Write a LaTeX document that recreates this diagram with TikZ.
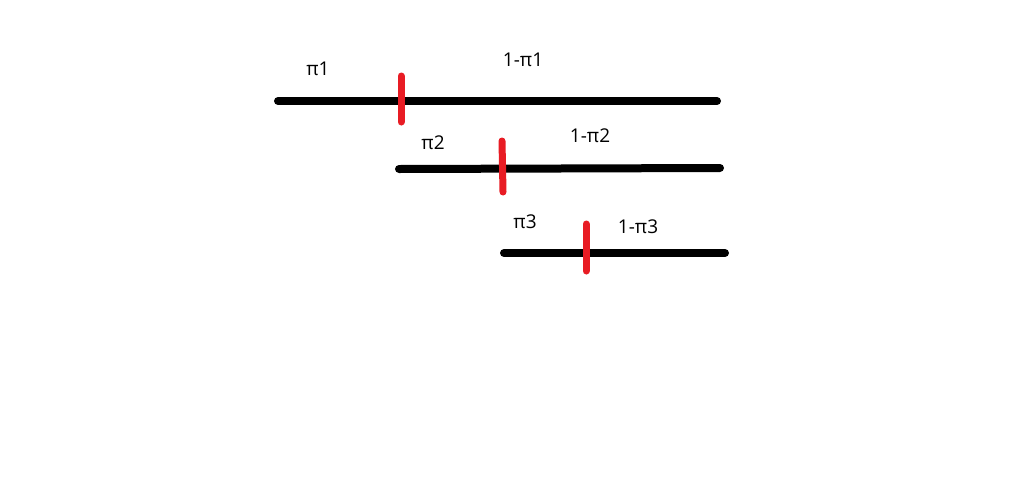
\documentclass[tikz,border=0pt]{standalone}
\usepackage{fontspec}
\setmainfont{Open Sans}
\usetikzlibrary{positioning}
\definecolor{cutred}{RGB}{232,28,36}

\begin{document}
\begin{tikzpicture}[x=1pt, y=-1pt,
    bar/.style={line width=8pt, line cap=round},
    cut/.style={line width=7pt, line cap=round, draw=cutred},
    lbl/.style={font=\fontsize{19}{22}\selectfont, inner sep=0pt}]
  \useasboundingbox[fill=white] (0,0) rectangle (1024,477);

  % Bar ends
  \coordinate (b1s) at (278,101);
  \coordinate (b1e) at (717,101);
  \coordinate (b2s) at (399,169);
  \coordinate (b2e) at (720,168);
  \coordinate (b3s) at (504,253);
  \coordinate (b3e) at (725,253);

  % Cut marks
  \coordinate (c1t) at (401,76);
  \coordinate (c1b) at (401,122);
  \coordinate (c2t) at (502,141);
  \coordinate (c2b) at (503,192);
  \coordinate (c3t) at (586,224);
  \coordinate (c3b) at (586,271);

  % Labels
  \node[lbl] (p1) at (318,69) {π1};
  \node[lbl] (q1) at (523,60) {1-π1};
  \node[lbl] (p2) at (433,143) {π2};
  \node[lbl] (q2) at (590,136) {1-π2};
  \node[lbl] (p3) at (525,222) {π3};
  \node[lbl] (q3) at (638,227) {1-π3};

  \draw[bar] (b1s) -- (b1e);
  \draw[bar] (b2s) -- (b2e);
  \draw[bar] (b3s) -- (b3e);

  \draw[cut] (c1t) -- (c1b);
  \draw[cut] (c2t) -- (c2b);
  \draw[cut] (c3t) -- (c3b);
\end{tikzpicture}
\end{document}
